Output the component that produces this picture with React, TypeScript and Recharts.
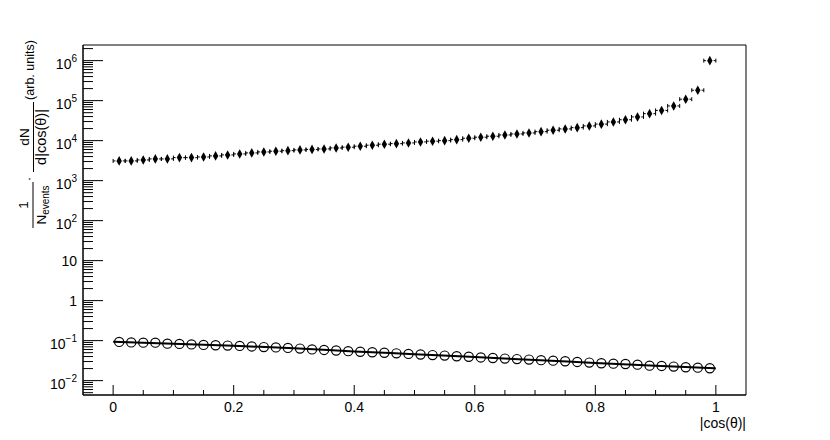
import React from 'react';
import { ComposedChart, Scatter, Line, XAxis, YAxis, ErrorBar, ReferenceArea } from 'recharts';

// bin centres of |cos(theta)|, 50 bins of width 0.02
const cosTheta = [
  0.01, 0.03, 0.05, 0.07, 0.09, 0.11, 0.13, 0.15, 0.17, 0.19,
  0.21, 0.23, 0.25, 0.27, 0.29, 0.31, 0.33, 0.35, 0.37, 0.39,
  0.41, 0.43, 0.45, 0.47, 0.49, 0.51, 0.53, 0.55, 0.57, 0.59,
  0.61, 0.63, 0.65, 0.67, 0.69, 0.71, 0.73, 0.75, 0.77, 0.79,
  0.81, 0.83, 0.85, 0.87, 0.89, 0.91, 0.93, 0.95, 0.97, 0.99,
];
const binHalfWidth = 0.01;

// filled diamonds
const diamondValues = [
  3110, 3110, 3290, 3490, 3490, 3760, 3760, 3910, 4150, 4390,
  4650, 4930, 5220, 5430, 5620, 5860, 6030, 6200, 6570, 6840,
  7240, 7670, 8130, 8410, 8760, 9280, 9660, 10000, 10590, 11480,
  12160, 12880, 13880, 14710, 15580, 16790, 18200, 19610, 21140, 23310,
  25850, 29340, 33310, 39130, 47320, 56890, 73700, 108400, 182000, 1000000,
];

// open circles
const circleValues = [
  0.0928, 0.0902, 0.0891, 0.0891, 0.0841, 0.0827, 0.0804, 0.0781, 0.0767, 0.075,
  0.0737, 0.0716, 0.0688, 0.0676, 0.0657, 0.0631, 0.0603, 0.0585, 0.0566, 0.0546,
  0.0528, 0.0513, 0.0498, 0.0481, 0.0465, 0.0449, 0.0434, 0.0422, 0.0407, 0.0394,
  0.038, 0.0367, 0.0355, 0.0345, 0.0335, 0.0325, 0.0316, 0.0305, 0.0293, 0.0282,
  0.0272, 0.0266, 0.0261, 0.0251, 0.0237, 0.0233, 0.0224, 0.0216, 0.0211, 0.0204,
];

// fit curve through the circles
const fitX = [0, 0.1, 0.2, 0.3, 0.4, 0.5, 0.6, 0.7, 0.8, 0.9, 1.0];
const fitValues = [0.094, 0.0834, 0.0743, 0.0644, 0.0537, 0.0457, 0.0387, 0.033, 0.0277, 0.0235, 0.0202];

const xMajorTicks = [0, 0.2, 0.4, 0.6, 0.8, 1];
const xTickLabels = ['0', '0.2', '0.4', '0.6', '0.8', '1'];
const yMajorTicks = [0.01, 0.1, 1, 10, 100, 1000, 10000, 100000, 1000000];
const yTickBase = ['10', '10', '1', '10', '10', '10', '10', '10', '10'];
const yTickExp = ['\u22122', '\u22121', '', '', '2', '3', '4', '5', '6'];

const Y_DOMAIN: [number, number] = [0.00437, 2.46e6];
const X_DOMAIN: [number, number] = [-0.05, 1.05];
const FONT = '"Liberation Sans", Arial, Helvetica, sans-serif';

const diamondData = cosTheta.map((x, i) => ({ x, y: diamondValues[i], ex: binHalfWidth }));
const circleData = cosTheta.map((x, i) => ({ x, y: circleValues[i] }));
const fitData = fitX.map((x, i) => ({ x, y: fitValues[i] }));

// minor ticks: 0.05 steps on x, 2..9 per decade on y
const xAllTicks: number[] = [];
for (let i = 0; i <= 20; i++) xAllTicks.push(Math.round(i * 5) / 100);
const yAllTicks: number[] = [];
for (let e = -3; e <= 6; e++) {
  for (let m = 1; m <= 9; m++) {
    const v = m * Math.pow(10, e);
    if (v >= Y_DOMAIN[0] && v <= Y_DOMAIN[1]) yAllTicks.push(v);
  }
}

const near = (a: number, b: number) => Math.abs(a - b) < 1e-9 * Math.max(1, Math.abs(b));

const XTick = (props: any) => {
  const { x, y, payload } = props;
  const idx = xMajorTicks.findIndex((t) => near(t, payload.value));
  const major = idx >= 0;
  return (
    <g>
      <line x1={x} x2={x} y1={y} y2={y - (major ? 10 : 5)} stroke="#000" strokeWidth={1} />
      {major && (
        <text x={x} y={y + 17} textAnchor="middle" fontSize={14} fontFamily={FONT} fill="#000">
          {xTickLabels[idx]}
        </text>
      )}
    </g>
  );
};

const YTick = (props: any) => {
  const { x, y, payload } = props;
  const idx = yMajorTicks.findIndex((t) => near(t, payload.value));
  const major = idx >= 0;
  const exp = major ? yTickExp[idx] : '';
  return (
    <g>
      <line x1={x} x2={x + (major ? 20 : 10)} y1={y} y2={y} stroke="#000" strokeWidth={1} />
      {major && (
        <text x={x - 6} y={exp ? y + 8 : y + 5} textAnchor="end" fontSize={14} fontFamily={FONT} fill="#000">
          {yTickBase[idx]}
          {exp && (
            <tspan dy={-6.5} fontSize={10}>
              {exp}
            </tspan>
          )}
        </text>
      )}
    </g>
  );
};

const Diamond = (props: any) => {
  const { cx, cy } = props;
  if (cx == null || cy == null) return <g />;
  return (
    <g>
      <path d={`M${cx},${cy - 6.5} L${cx + 4},${cy} L${cx},${cy + 6.5} L${cx - 4},${cy} Z`} fill="#fff" />
      <path d={`M${cx},${cy - 4.8} L${cx + 2.7},${cy} L${cx},${cy + 4.8} L${cx - 2.7},${cy} Z`} fill="#000" />
    </g>
  );
};

const OpenCircle = (props: any) => {
  const { cx, cy } = props;
  if (cx == null || cy == null) return <g />;
  return <circle cx={cx} cy={cy} r={4.6} fill="none" stroke="#000" strokeWidth={1.2} />;
};

export default function App() {
  return (
    <div style={{ position: 'absolute', left: 0, top: 0, width: 830, height: 440, background: '#fff' }}>
      <ComposedChart width={830} height={440} margin={{ top: 45, right: 84, bottom: 15, left: 23 }}>
        <XAxis
          dataKey="x"
          type="number"
          domain={X_DOMAIN}
          allowDataOverflow
          ticks={xAllTicks}
          interval={0}
          tick={<XTick />}
          tickSize={0}
          tickMargin={0}
          tickLine={false}
          axisLine={{ stroke: '#000', strokeWidth: 1 }}
          height={30}
        />
        <YAxis
          type="number"
          scale="log"
          domain={Y_DOMAIN}
          allowDataOverflow
          ticks={yAllTicks}
          interval={0}
          tick={<YTick />}
          tickSize={0}
          tickMargin={0}
          tickLine={false}
          axisLine={{ stroke: '#000', strokeWidth: 1 }}
          width={60}
        />
        <ReferenceArea
          x1={X_DOMAIN[0]}
          x2={X_DOMAIN[1]}
          y1={Y_DOMAIN[0]}
          y2={Y_DOMAIN[1]}
          fill="none"
          fillOpacity={0}
          stroke="#000"
          strokeWidth={1}
          strokeOpacity={1}
          ifOverflow="visible"
        />
        <Line
          data={fitData}
          dataKey="y"
          type="monotone"
          stroke="#000"
          strokeWidth={2}
          dot={false}
          activeDot={false}
          isAnimationActive={false}
        />
        <Scatter data={circleData} dataKey="y" shape={<OpenCircle />} isAnimationActive={false} />
        <Scatter data={diamondData} dataKey="y" shape={<Diamond />} isAnimationActive={false}>
          <ErrorBar dataKey="ex" direction="x" width={2} stroke="#000" strokeWidth={1} />
        </Scatter>
      </ComposedChart>
      <svg
        width={830}
        height={440}
        style={{ position: 'absolute', left: 0, top: 0, pointerEvents: 'none' }}
        fontFamily={FONT}
        fill="#000"
      >
        <text x={746} y={428} textAnchor="end" fontSize={14}>
          |cos(θ)|
        </text>
        <g transform="rotate(-90)" fontSize={13.5}>
          <text x={-205} y={28} textAnchor="middle">1</text>
          <line x1={-228} x2={-182} y1={33} y2={33} stroke="#000" strokeWidth={1} />
          <text x={-205} y={46} textAnchor="middle">
            N
            <tspan fontSize={10} dy={2.5}>events</tspan>
          </text>
          <text x={-179} y={33} textAnchor="middle">·</text>
          <text x={-137} y={29} textAnchor="middle">dN</text>
          <line x1={-172} x2={-102} y1={33.5} y2={33.5} stroke="#000" strokeWidth={1} />
          <text x={-137} y={46} textAnchor="middle" fontSize={14.5}>d|cos(θ)|</text>
          <text x={-70} y={34} textAnchor="middle" fontSize={12.5}>(arb. units)</text>
        </g>
      </svg>
    </div>
  );
}
